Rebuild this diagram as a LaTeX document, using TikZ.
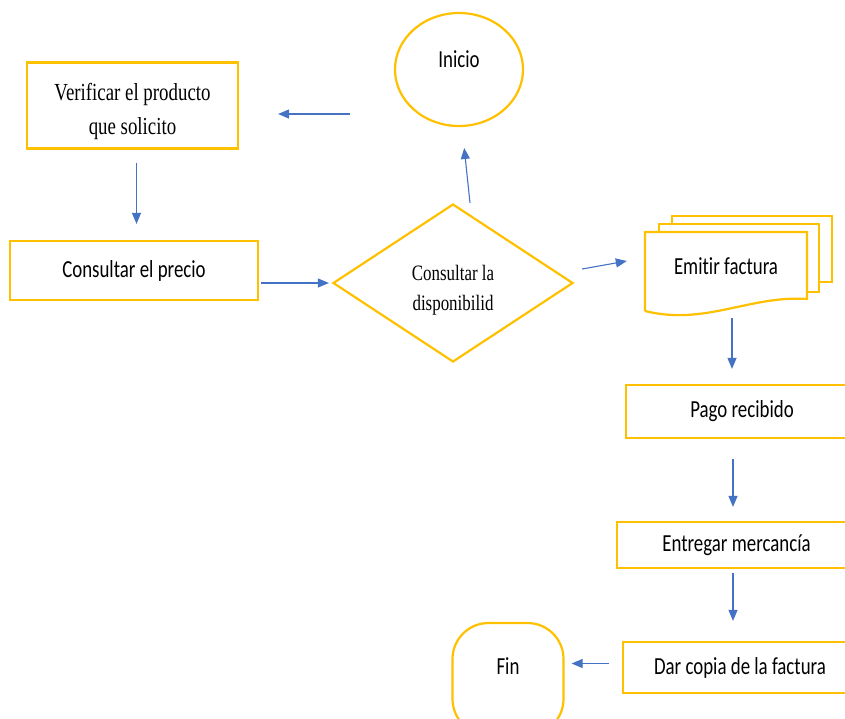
\documentclass[tikz,border=0pt]{standalone}
\usepackage{fontspec}
\setmainfont{Liberation Serif}[FakeStretch=0.77]
\newfontfamily\calib{Carlito}[FakeStretch=0.77, RawFeature=-liga]
\usetikzlibrary{shapes.geometric,arrows.meta}

\definecolor{borde}{HTML}{FFC000}
\definecolor{flecha}{HTML}{4472C4}

\tikzset{
  paso/.style={draw=borde, line width=2.2pt, fill=white, rectangle, inner sep=0pt,
    font=\calib\fontsize{24.5}{28}\selectfont},
  pasoserif/.style={paso, align=center, font=\fontsize{24.5}{34}\selectfont},
  term/.style={draw=borde, line width=2.2pt, inner sep=0pt,
    font=\calib\fontsize{24.5}{28}\selectfont},
  decision/.style={draw=borde, line width=2.2pt, diamond, inner sep=0pt, align=center,
    font=\fontsize{22}{30}\selectfont},
  hoja/.style={draw=borde, line width=2.2pt, fill=white, line join=miter},
  flow/.style={draw=flecha, line width=1.1pt, -{Triangle[length=11pt,width=9pt]}}
}

\begin{document}
\begin{tikzpicture}[x=1pt, y=-1pt]
  \useasboundingbox (0,0) rectangle (845,718);

  % Nodes
  \node[term, ellipse, minimum width=128pt, minimum height=113pt, text depth=20pt]
                                                     (ini) at (459,69.5) {Inicio};
  \node[pasoserif, minimum width=211pt, minimum height=86pt, text height=64pt]
                                                     (verif) at (132.5,105.5) {Verificar el producto\\que solicito};
  \node[paso, minimum width=248pt, minimum height=59pt]
                                                     (precio) at (134,270.5) {Consultar el precio};
  \node[decision, minimum width=240pt, minimum height=158pt, text height=59pt]
                                                     (dec) at (453,283) {Consultar la\\disponibilid};

  % Documents (stacked)
  \draw[hoja] (672,282) -- (672,216) -- (832,216) -- (832,282) -- cycle;
  \draw[hoja] (659,292) -- (659,224) -- (819,224) -- (819,292) -- cycle;
  \draw[hoja] (645,311) -- (645,232) -- (807,232) -- (807,299)
    .. controls (750,295) and (705,326) .. (645,311);
  \node[font=\calib\fontsize{24.5}{28}\selectfont, inner sep=0pt, minimum width=162pt, minimum height=72pt]
                                                     (emit) at (726,266) {Emitir factura};

  \node[paso, minimum width=232pt, minimum height=53pt]
                                                     (pago) at (742,411.5) {Pago recibido};
  \node[paso, minimum width=239pt, minimum height=46pt]
                                                     (entrega) at (736.5,545) {Entregar mercancía};
  \node[paso, minimum width=234pt, minimum height=51pt]
                                                     (copia) at (740,667.5) {Dar copia de la factura};
  \node[term, rectangle, rounded corners=36pt, minimum width=111pt, minimum height=112pt, text depth=26pt]
                                                     (fin) at (508,679) {Fin};

  % Edges
  \coordinate (vuelta) at (350,114);
  \draw[flow, shorten >=39pt] (vuelta) -- (vuelta -| verif.east);
  \draw[flow, shorten <=13pt, shorten >=16pt] ([xshift=4pt]verif.south) -- ([xshift=4pt]verif.south |- precio.north);
  \draw[flow, shorten <=2pt, shorten >=3pt] (precio.east |- dec) -- (dec.west);
  \draw[flow, shorten >=21pt] ([xshift=17pt]dec.north) -- ([xshift=3pt]ini.south);
  \draw[flow] ([xshift=8pt,yshift=14pt]dec.east) -- ([xshift=-18pt,yshift=5pt]emit.west);
  \draw[flow, shorten >=15pt] ([xshift=6pt,yshift=-16pt]emit.south) -- ([xshift=6pt]emit.south |- pago.north);
  \draw[flow, shorten <=20pt, shorten >=14pt] ([xshift=-9pt]pago.south) -- ([xshift=-9pt]pago.south |- entrega.north);
  \draw[flow, shorten <=4pt, shorten >=20pt] ([xshift=-3.5pt]entrega.south) -- ([xshift=-3.5pt]entrega.south |- copia.north);
  \draw[flow, shorten <=13pt, shorten >=7pt] ([yshift=4pt]copia.west) -- ([yshift=4pt]copia.west -| fin.east);
\end{tikzpicture}
\end{document}
